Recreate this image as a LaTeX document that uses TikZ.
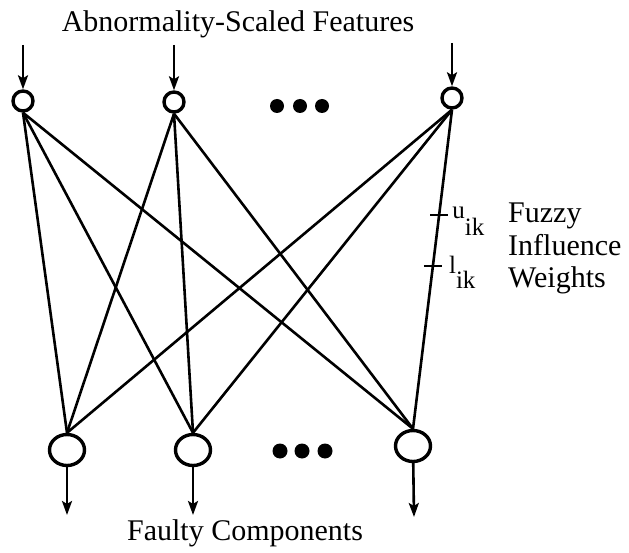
\documentclass[tikz,border=0pt]{standalone}
\usepackage{fontspec}
\setmainfont{Liberation Serif}
\usetikzlibrary{shapes.geometric,arrows.meta}

\begin{document}
\begin{tikzpicture}[x=1pt,y=-1pt,
  feat/.style={draw,circle,line width=3.4pt,minimum size=20pt,inner sep=0pt},
  comp/.style={draw,ellipse,line width=3.4pt,minimum width=35pt,minimum height=31pt,inner sep=0pt},
  link/.style={draw,line width=2.6pt},
  io/.style={draw,line width=2.6pt,-{Stealth[length=14pt,width=10pt,inset=3pt]}},
  dot/.style={fill,circle,minimum size=14pt,inner sep=0pt},
  lbl/.style={font=\fontsize{30}{32}\selectfont,inner sep=0pt},
  sub/.style={font=\fontsize{25}{26}\selectfont,inner sep=0pt}]
\useasboundingbox (0,0) rectangle (629,553);
% labels
\node[lbl,anchor=base] (title) at (238,32) {Abnormality-Scaled Features};
\node[lbl,anchor=base] (faulty) at (245,540) {Faulty Components};
% feature nodes
\node[feat] (f1) at (23,101) {};
\node[feat] (f2) at (174,102) {};
\node[feat] (f3) at (452,98) {};
\node[dot] (d1) at (277,106) {};
\node[dot] (d2) at (300,106) {};
\node[dot] (d3) at (322,106) {};
% component nodes
\node[comp] (c1) at (67,450) {};
\node[comp] (c2) at (193,450) {};
\node[comp] (c3) at (413,446) {};
\node[dot,minimum size=15pt] (e1) at (280,451) {};
\node[dot,minimum size=15pt] (e2) at (302,451) {};
\node[dot,minimum size=15pt] (e3) at (325,451) {};
% inputs and outputs
\coordinate (in1) at (23,45);
\coordinate (in2) at (174,45);
\coordinate (in3) at (452,43);
\coordinate (out1) at (67,515);
\coordinate (out2) at (193,515);
\coordinate (out3) at (414,517);
\path[io] (in1) -- (f1);
\path[io] (in2) -- (f2);
\path[io] (in3) -- (f3);
\path[io] (c1) -- (out1);
\path[io] (c2) -- (out2);
\path[io] (c3) -- (out3);
% weights
\path[link] (f1.south) -- (c1.north);
\path[link] (f1.south) -- (c2.north);
\path[link] (f1.south) -- (c3.north);
\path[link] (f2.south) -- (c1.north);
\path[link] (f2.south) -- (c2.north);
\path[link] (f2.south) -- (c3.north);
\path[link] (f3.south) -- (c1.north);
\path[link] (f3.south) -- (c2.north);
\path[link] (f3.south) -- (c3.north) coordinate[pos=0.33] (tu) coordinate[pos=0.49] (tl);
\path[link] ([xshift=-9pt]tu) -- ([xshift=9pt]tu);
\path[link] ([xshift=-9pt]tl) -- ([xshift=9pt]tl);
\node[sub,anchor=base west] (u) at ([xshift=13pt,yshift=-3pt]tu) {u\raisebox{-17pt}{ik}};
\node[sub,anchor=base west] (l) at ([xshift=16pt,yshift=-7pt]tl) {l\raisebox{-15pt}{ik}};
\node[lbl,anchor=base west] (fuzzy) at (508,223) {Fuzzy};
\node[lbl,anchor=base west] (influence) at (508,256) {Influence};
\node[lbl,anchor=base west] (weights) at (508,288) {Weights};
\end{tikzpicture}
\end{document}
